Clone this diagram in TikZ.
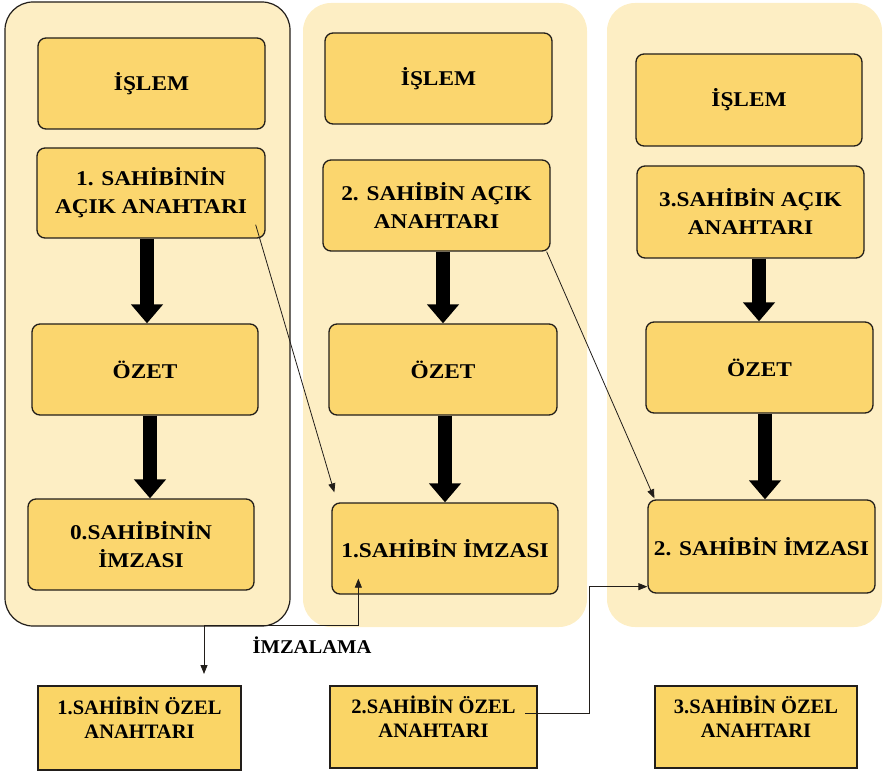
\documentclass[tikz,border=0pt]{standalone}
\usepackage{fontspec}
\setmainfont{Liberation Serif}
\newfontfamily\widefont[FakeStretch=1.11]{Liberation Serif}
\usetikzlibrary{arrows.meta}

\definecolor{panelfill}{RGB}{253,238,196}
\definecolor{boxfill}{RGB}{251,214,110}
\definecolor{keyfill}{RGB}{250,213,102}
\definecolor{edge}{RGB}{34,30,26}

\tikzset{
  panel/.style={rectangle, rounded corners=28pt, fill=panelfill, inner sep=0pt},
  stepbox/.style={rectangle, rounded corners=8pt, draw=edge, line width=1.3pt,
    fill=boxfill, inner sep=0pt, align=center,
    font=\widefont\bfseries\fontsize{21}{28}\selectfont},
  keybox/.style={rectangle, draw=edge, line width=2pt, fill=keyfill, inner sep=0pt},
  keytext/.style={align=center, inner sep=0pt,
    font=\bfseries\fontsize{20.5}{24}\selectfont},
  bigarrow/.style={line width=14pt, -{Triangle[width=31pt,length=19pt]}},
  thinarrow/.style={line width=0.8pt, draw=edge, -{Triangle[length=9pt,width=7pt]}},
  thinboth/.style={line width=0.8pt, draw=edge,
    {Triangle[length=9pt,width=7pt]}-{Triangle[length=9pt,width=7pt]}}
}

\begin{document}
\begin{tikzpicture}[x=1pt,y=-1pt]
\useasboundingbox (0,0) rectangle (883,775);

% three process columns
\node[panel, draw=edge, line width=1.2pt, minimum width=285pt, minimum height=624pt] (p1) at (147.5,314) {};
\node[panel, minimum width=284pt, minimum height=624pt] (p2) at (445,315) {};
\node[panel, minimum width=275pt, minimum height=624pt] (p3) at (744.5,315) {};

% column 1
\node[stepbox, minimum width=227pt, minimum height=91pt] (i1) at (151.5,83.5) {İŞLEM};
\node[stepbox, minimum width=228pt, minimum height=90pt] (a1) at (151,193) {1. SAHİBİNİN\\AÇIK ANAHTARI};
\node[stepbox, minimum width=226pt, minimum height=91pt] (o1) at (145,369.5) {ÖZET};
\node[stepbox, minimum width=226pt, minimum height=91pt] (s1) at (141,544.5) {0.SAHİBİNİN\\İMZASI};

% column 2
\node[stepbox, minimum width=227pt, minimum height=91pt] (i2) at (438.5,78.5) {İŞLEM};
\node[stepbox, minimum width=227pt, minimum height=91pt] (a2) at (436.5,205.5) {2. SAHİBİN AÇIK\\ANAHTARI};
\node[stepbox, minimum width=228pt, minimum height=91pt] (o2) at (443,369.5) {ÖZET};
\node[stepbox, minimum width=226pt, minimum height=91pt] (s2) at (445,548.5) {1.SAHİBİN İMZASI};

% column 3
\node[stepbox, minimum width=226pt, minimum height=92pt] (i3) at (749,100) {İŞLEM};
\node[stepbox, minimum width=227pt, minimum height=92pt] (a3) at (750.5,212) {3.SAHİBİN AÇIK\\ANAHTARI};
\node[stepbox, minimum width=227pt, minimum height=91pt] (o3) at (759.5,367.5) {ÖZET};
\node[stepbox, minimum width=227pt, minimum height=93pt] (s3) at (761.5,546.5) {2. SAHİBİN İMZASI};

% private keys
\node[keybox, minimum width=203pt, minimum height=84pt] (k1) at (139.5,728) {};
\node[keybox, minimum width=207pt, minimum height=82pt] (k2) at (433.5,727) {};
\node[keybox, minimum width=202pt, minimum height=82pt] (k3) at (756,727) {};
\node[keytext] (t1) at ([yshift=10pt]k1.center) {1.SAHİBİN ÖZEL\\ANAHTARI};
\node[keytext] (t2) at ([yshift=10pt]k2.center) {2.SAHİBİN ÖZEL\\ANAHTARI};
\node[keytext] (t3) at ([yshift=10pt]k3.center) {3.SAHİBİN ÖZEL\\ANAHTARI};

\node[inner sep=0pt, font=\widefont\bfseries\fontsize{19.5}{24}\selectfont, xscale=0.95] (lbl) at (312,645) {İMZALAMA};

% hash flow inside each column
\draw[bigarrow] (147,0 |- a1.south) -- (147,0 |- o1.north);
\draw[bigarrow] (150,0 |- o1.south) -- (150,0 |- s1.north);
\draw[bigarrow] (443,0 |- a2.south) -- (443,0 |- o2.north);
\draw[bigarrow] (445,0 |- o2.south) -- (445,0 |- s2.north);
\draw[bigarrow] (759,0 |- a3.south) -- (759,0 |- o3.north);
\draw[bigarrow] (765,0 |- o3.south) -- (765,0 |- s3.north);

% public key of the next owner goes into the signature
\draw[thinarrow] ([xshift=-10pt,yshift=14pt]a1.south east) -- ([xshift=3pt,yshift=10pt]s2.north west);
\draw[thinarrow] ([xshift=-4pt]a2.south east) -- ([xshift=7pt,yshift=1pt]s3.north west);

% signing with the private keys
\coordinate (sig) at ([xshift=27pt,yshift=16pt]s2.south west);
\coordinate (kin) at ([xshift=64.5pt,yshift=11pt]k1.north);
\draw[thinboth] (sig) -- ++(0,47) -| (kin);
\coordinate (kout) at ([xshift=-13pt,yshift=14pt]k2.east);
\draw[thinarrow] (kout) -- ++(64,0) |- ([yshift=7pt]s3.south west);
\end{tikzpicture}
\end{document}
